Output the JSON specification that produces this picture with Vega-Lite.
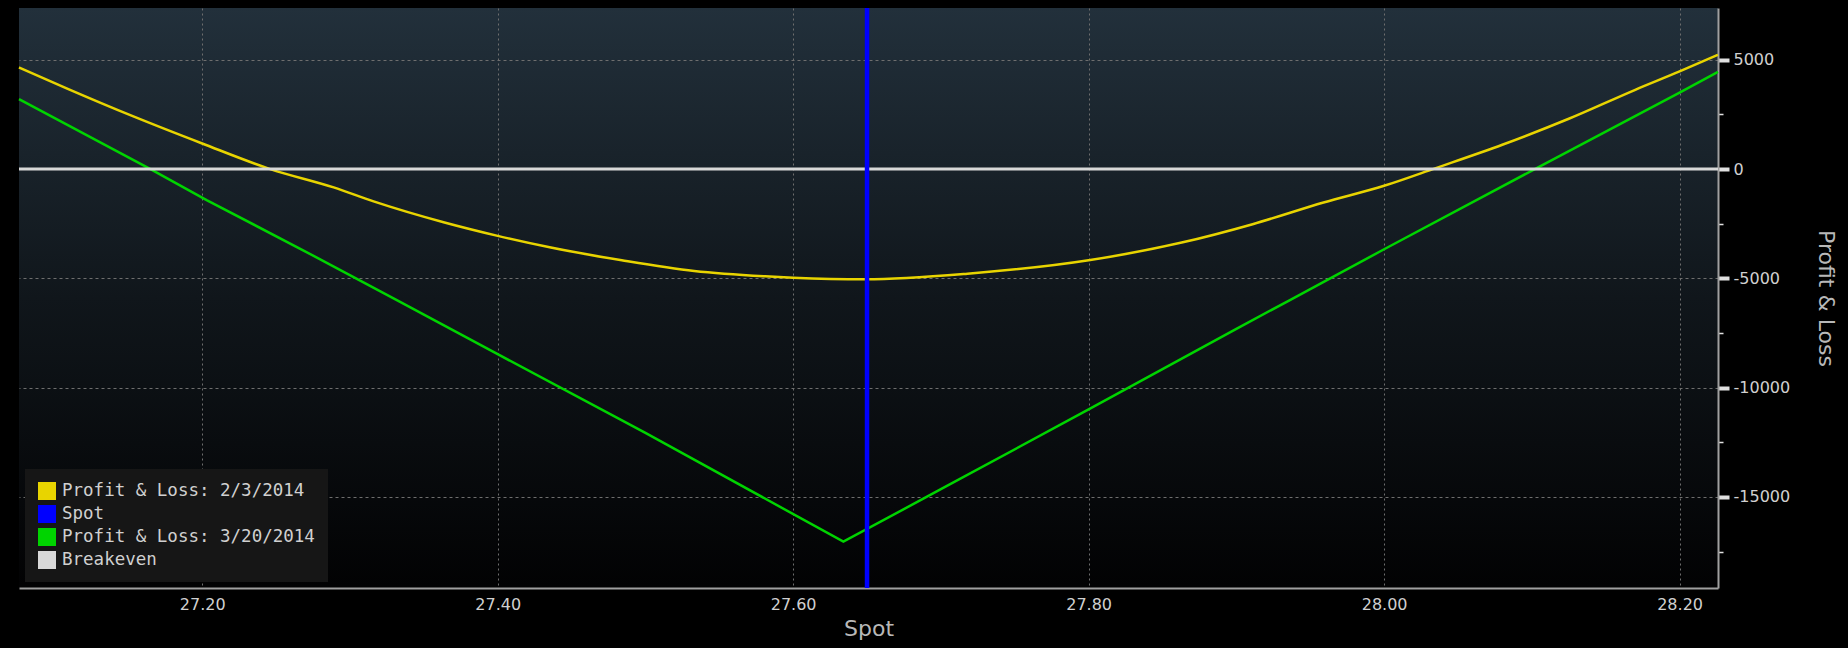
{
  "$schema": "https://vega.github.io/schema/vega-lite/v6.json",
  "width": 1699,
  "height": 580,
  "autosize": {"type": "none"},
  "padding": {"left": 19, "top": 8, "right": 130, "bottom": 60},
  "background": "#000000",
  "config": {
    "font": "DejaVu Sans",
    "view": {
      "stroke": null,
      "fill": {
        "gradient": "linear",
        "x1": 0, "y1": 0, "x2": 0, "y2": 1,
        "stops": [
          {"offset": 0, "color": "#22303b"},
          {"offset": 0.5, "color": "#10161b"},
          {"offset": 1, "color": "#020203"}
        ]
      }
    }
  },
  "layer": [
    {
      "data": {
        "values": [
          {"spot": 27.076, "pnl": 4650, "series": "Profit & Loss: 2/3/2014"},
          {"spot": 27.109, "pnl": 3670, "series": "Profit & Loss: 2/3/2014"},
          {"spot": 27.153, "pnl": 2420, "series": "Profit & Loss: 2/3/2014"},
          {"spot": 27.2, "pnl": 1170, "series": "Profit & Loss: 2/3/2014"},
          {"spot": 27.246, "pnl": 0, "series": "Profit & Loss: 2/3/2014"},
          {"spot": 27.289, "pnl": -840, "series": "Profit & Loss: 2/3/2014"},
          {"spot": 27.316, "pnl": -1480, "series": "Profit & Loss: 2/3/2014"},
          {"spot": 27.364, "pnl": -2446, "series": "Profit & Loss: 2/3/2014"},
          {"spot": 27.4, "pnl": -3058, "series": "Profit & Loss: 2/3/2014"},
          {"spot": 27.436, "pnl": -3593, "series": "Profit & Loss: 2/3/2014"},
          {"spot": 27.484, "pnl": -4174, "series": "Profit & Loss: 2/3/2014"},
          {"spot": 27.533, "pnl": -4664, "series": "Profit & Loss: 2/3/2014"},
          {"spot": 27.581, "pnl": -4908, "series": "Profit & Loss: 2/3/2014"},
          {"spot": 27.6, "pnl": -4969, "series": "Profit & Loss: 2/3/2014"},
          {"spot": 27.649, "pnl": -5040, "series": "Profit & Loss: 2/3/2014"},
          {"spot": 27.718, "pnl": -4786, "series": "Profit & Loss: 2/3/2014"},
          {"spot": 27.8, "pnl": -4174, "series": "Profit & Loss: 2/3/2014"},
          {"spot": 27.863, "pnl": -3364, "series": "Profit & Loss: 2/3/2014"},
          {"spot": 27.911, "pnl": -2523, "series": "Profit & Loss: 2/3/2014"},
          {"spot": 27.959, "pnl": -1529, "series": "Profit & Loss: 2/3/2014"},
          {"spot": 28.0, "pnl": -765, "series": "Profit & Loss: 2/3/2014"},
          {"spot": 28.035, "pnl": 46, "series": "Profit & Loss: 2/3/2014"},
          {"spot": 28.08, "pnl": 1113, "series": "Profit & Loss: 2/3/2014"},
          {"spot": 28.125, "pnl": 2302, "series": "Profit & Loss: 2/3/2014"},
          {"spot": 28.17, "pnl": 3628, "series": "Profit & Loss: 2/3/2014"},
          {"spot": 28.2, "pnl": 4466, "series": "Profit & Loss: 2/3/2014"},
          {"spot": 28.226, "pnl": 5229, "series": "Profit & Loss: 2/3/2014"}
        ]
      },
      "mark": {"type": "line", "strokeWidth": 2.5, "interpolate": "monotone"},
      "encoding": {
        "x": {
          "field": "spot",
          "type": "quantitative",
          "scale": {"domain": [27.076, 28.226], "nice": false, "zero": false},
          "axis": {
            "values": [27.2, 27.4, 27.6, 27.8, 28.0, 28.2],
            "format": ".2f",
            "ticks": false,
            "grid": true,
            "gridColor": "#6e6e6e",
            "gridDash": [2, 3],
            "gridWidth": 1,
            "domainColor": "#a0a0a0",
            "domainWidth": 2,
            "labelColor": "#d0d0d0",
            "labelFontSize": 16,
            "labelPadding": 8,
            "title": "Spot",
            "titleColor": "#b8b8b8",
            "titleFontSize": 22,
            "titleFontWeight": "normal",
            "titlePadding": 6
          }
        },
        "y": {
          "field": "pnl",
          "type": "quantitative",
          "scale": {"domain": [-19170, 7370], "nice": false, "zero": false},
          "axis": {
            "orient": "right",
            "values": [-17500, -15000, -12500, -10000, -7500, -5000, -2500, 0, 2500, 5000],
            "labelExpr": "datum.value % 5000 === 0 ? '' + datum.value : ''",
            "labelOverlap": false,
            "grid": true,
            "gridColor": "#6e6e6e",
            "gridDash": [3, 3],
            "gridWidth": 1,
            "gridOpacity": {"condition": {"test": "datum.value % 5000 !== 0", "value": 0}, "value": 1},
            "tickSize": {"condition": {"test": "datum.value % 5000 !== 0", "value": 5}, "value": 11},
            "tickWidth": {"condition": {"test": "datum.value % 5000 !== 0", "value": 1.5}, "value": 4},
            "tickColor": "#e0e0e0",
            "domainColor": "#a0a0a0",
            "domainWidth": 2,
            "labelColor": "#d0d0d0",
            "labelFontSize": 16,
            "labelPadding": 4,
            "title": "Profit & Loss",
            "titleColor": "#b8b8b8",
            "titleFontSize": 22,
            "titleFontWeight": "normal",
            "titlePadding": 24
          }
        },
        "color": {
          "field": "series",
          "type": "nominal",
          "scale": {
            "domain": ["Profit & Loss: 2/3/2014", "Spot", "Profit & Loss: 3/20/2014", "Breakeven"],
            "range": ["#e8d400", "#0000ff", "#00d400", "#d8d8d8"]
          },
          "legend": {
            "orient": "bottom-left",
            "offset": 6,
            "title": null,
            "padding": 13,
            "rowPadding": 5,
            "fillColor": "#161616",
            "symbolType": "square",
            "symbolSize": 324,
            "symbolStrokeWidth": 0,
            "symbolOpacity": 1,
            "labelFont": "DejaVu Sans Mono",
            "labelFontSize": 17.5,
            "labelColor": "#d0d0d0",
            "labelOffset": 6,
            "labelLimit": 400,
            "encode": {
              "symbols": {
                "update": {
                  "fill": {"scale": "color", "field": "value"},
                  "stroke": {"value": "transparent"},
                  "opacity": {"value": 1}
                }
              }
            }
          }
        }
      }
    },
    {
      "data": {
        "values": [
          {"spot": 27.076, "pnl": 3200, "series": "Profit & Loss: 3/20/2014"},
          {"spot": 27.165, "pnl": 0, "series": "Profit & Loss: 3/20/2014"},
          {"spot": 27.203, "pnl": -1420, "series": "Profit & Loss: 3/20/2014"},
          {"spot": 27.267, "pnl": -3670, "series": "Profit & Loss: 3/20/2014"},
          {"spot": 27.333, "pnl": -6040, "series": "Profit & Loss: 3/20/2014"},
          {"spot": 27.4, "pnl": -8470, "series": "Profit & Loss: 3/20/2014"},
          {"spot": 27.5, "pnl": -12070, "series": "Profit & Loss: 3/20/2014"},
          {"spot": 27.634, "pnl": -17050, "series": "Profit & Loss: 3/20/2014"},
          {"spot": 27.7, "pnl": -14650, "series": "Profit & Loss: 3/20/2014"},
          {"spot": 27.8, "pnl": -11000, "series": "Profit & Loss: 3/20/2014"},
          {"spot": 27.9, "pnl": -7310, "series": "Profit & Loss: 3/20/2014"},
          {"spot": 27.935, "pnl": -6040, "series": "Profit & Loss: 3/20/2014"},
          {"spot": 28.0, "pnl": -3670, "series": "Profit & Loss: 3/20/2014"},
          {"spot": 28.102, "pnl": 0, "series": "Profit & Loss: 3/20/2014"},
          {"spot": 28.2, "pnl": 3500, "series": "Profit & Loss: 3/20/2014"},
          {"spot": 28.226, "pnl": 4450, "series": "Profit & Loss: 3/20/2014"}
        ]
      },
      "mark": {"type": "line", "strokeWidth": 2.5},
      "encoding": {
        "x": {"field": "spot", "type": "quantitative"},
        "y": {"field": "pnl", "type": "quantitative"},
        "color": {"field": "series", "type": "nominal"}
      }
    },
    {
      "data": {"values": [{"pnl": 0, "series": "Breakeven"}]},
      "mark": {"type": "rule", "strokeWidth": 3},
      "encoding": {
        "y": {"field": "pnl", "type": "quantitative"},
        "color": {"field": "series", "type": "nominal"}
      }
    },
    {
      "data": {"values": [{"spot": 27.65, "series": "Spot"}]},
      "mark": {"type": "rule", "strokeWidth": 4.5},
      "encoding": {
        "x": {"field": "spot", "type": "quantitative"},
        "color": {"field": "series", "type": "nominal"}
      }
    }
  ]
}
